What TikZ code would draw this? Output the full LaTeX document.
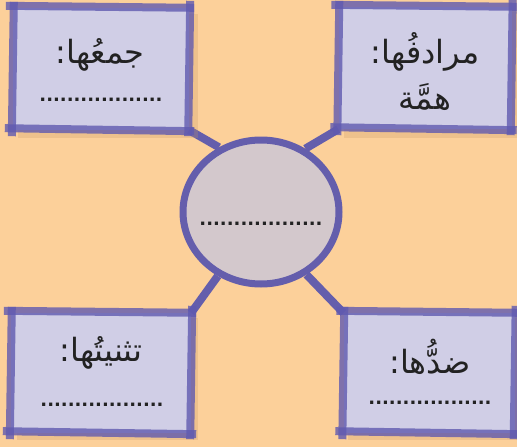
\documentclass[tikz,border=0pt]{standalone}
\usepackage{fontspec}
\usetikzlibrary{shapes.geometric,backgrounds,calc}
\TeXXeTstate=1
\newfontfamily\arabicfont[Script=Arabic]{DejaVu Sans}
\newfontfamily\dotfont{DejaVu Sans Bold}
\definecolor{bg}{RGB}{252,208,154}
\definecolor{boxfill}{RGB}{208,206,230}
\definecolor{edgecol}{RGB}{96,90,176}
\definecolor{circfill}{RGB}{211,200,204}
\definecolor{circedge}{RGB}{100,94,172}
\definecolor{ink}{RGB}{34,34,34}
\definecolor{shadowcol}{RGB}{200,150,100}
\tikzset{
  box/.style={fill=boxfill, inner sep=0pt},
  hedge/.style={line width=8pt, draw=edgecol, opacity=0.8},
  link/.style={line width=8pt, draw=circedge},
  circ/.style={ellipse, fill=circfill, draw=circedge, line width=7pt, minimum width=156pt, minimum height=144pt},
  title/.style={text=ink, font=\arabicfont\fontsize{32}{38}\selectfont, align=center},
  dots/.style={text=ink, font=\dotfont\fontsize{18}{22}\selectfont},
  shad/.style={fill=shadowcol, opacity=0.25}
}
\newcommand{\handbox}[1]{%
  \draw[hedge] ([shift={(-7,-2)}]#1.north west) -- ([shift={(5,0)}]#1.north east);
  \draw[hedge] ([shift={(1,-7)}]#1.north east) -- ([shift={(-1,6)}]#1.south east);
  \draw[hedge] ([shift={(5,1)}]#1.south east) -- ([shift={(-8,-2)}]#1.south west);
  \draw[hedge] ([shift={(-1,6)}]#1.south west) -- ([shift={(1,-6)}]#1.north west);
}
\begin{document}
\begin{tikzpicture}[x=1pt,y=-1pt]
\useasboundingbox (0,0) rectangle (517,447);

% shadows
\fill[shad] (18,14) rectangle (198,138);
\fill[shad] (344,12) rectangle (517,138);
\fill[shad] (17,318) rectangle (198,440);
\fill[shad] (348,318) rectangle (517,440);

\node[box, minimum width=176pt, minimum height=122pt] (tl) at (101,69) {};
\node[box, minimum width=173pt, minimum height=122pt] (tr) at (425,68) {};
\node[box, minimum width=180pt, minimum height=120pt] (bl) at (101,373) {};
\node[box, minimum width=171pt, minimum height=120pt] (br) at (429,373) {};

\node[circ] (c) at (261,212) {};

% background and connectors behind
\begin{scope}[on background layer]
\fill[bg] (0,0) rectangle (517,447);
\draw[link] (tl.south east) -- (c.123);
\draw[link] (tr.south west) -- (c.55);
\draw[link] (bl.north east) -- (c.236);
\draw[link] (br.north west) -- (c.-54);
\end{scope}

\handbox{tl}
\handbox{tr}
\handbox{bl}
\handbox{br}

% texts
\node[title] (t1) at (100,55) {\beginR جمعُها:\endR};
\node[dots] (d1) at (101,100) {..................};
\node[title] (t2) at (425,52) {\beginR مرادفُها:\endR};
\node[title] (t2b) at (425,97) {\beginR همَّة\endR};
\node[dots] (dc) at (261,224) {..................};
\node[title] (t3) at (101,353) {\beginR تثنيتُها:\endR};
\node[dots] (d3) at (102,405) {..................};
\node[title] (t4) at (430,357) {\beginR ضدُّها:\endR};
\node[dots] (d4) at (430,403) {..................};
\end{tikzpicture}
\end{document}
